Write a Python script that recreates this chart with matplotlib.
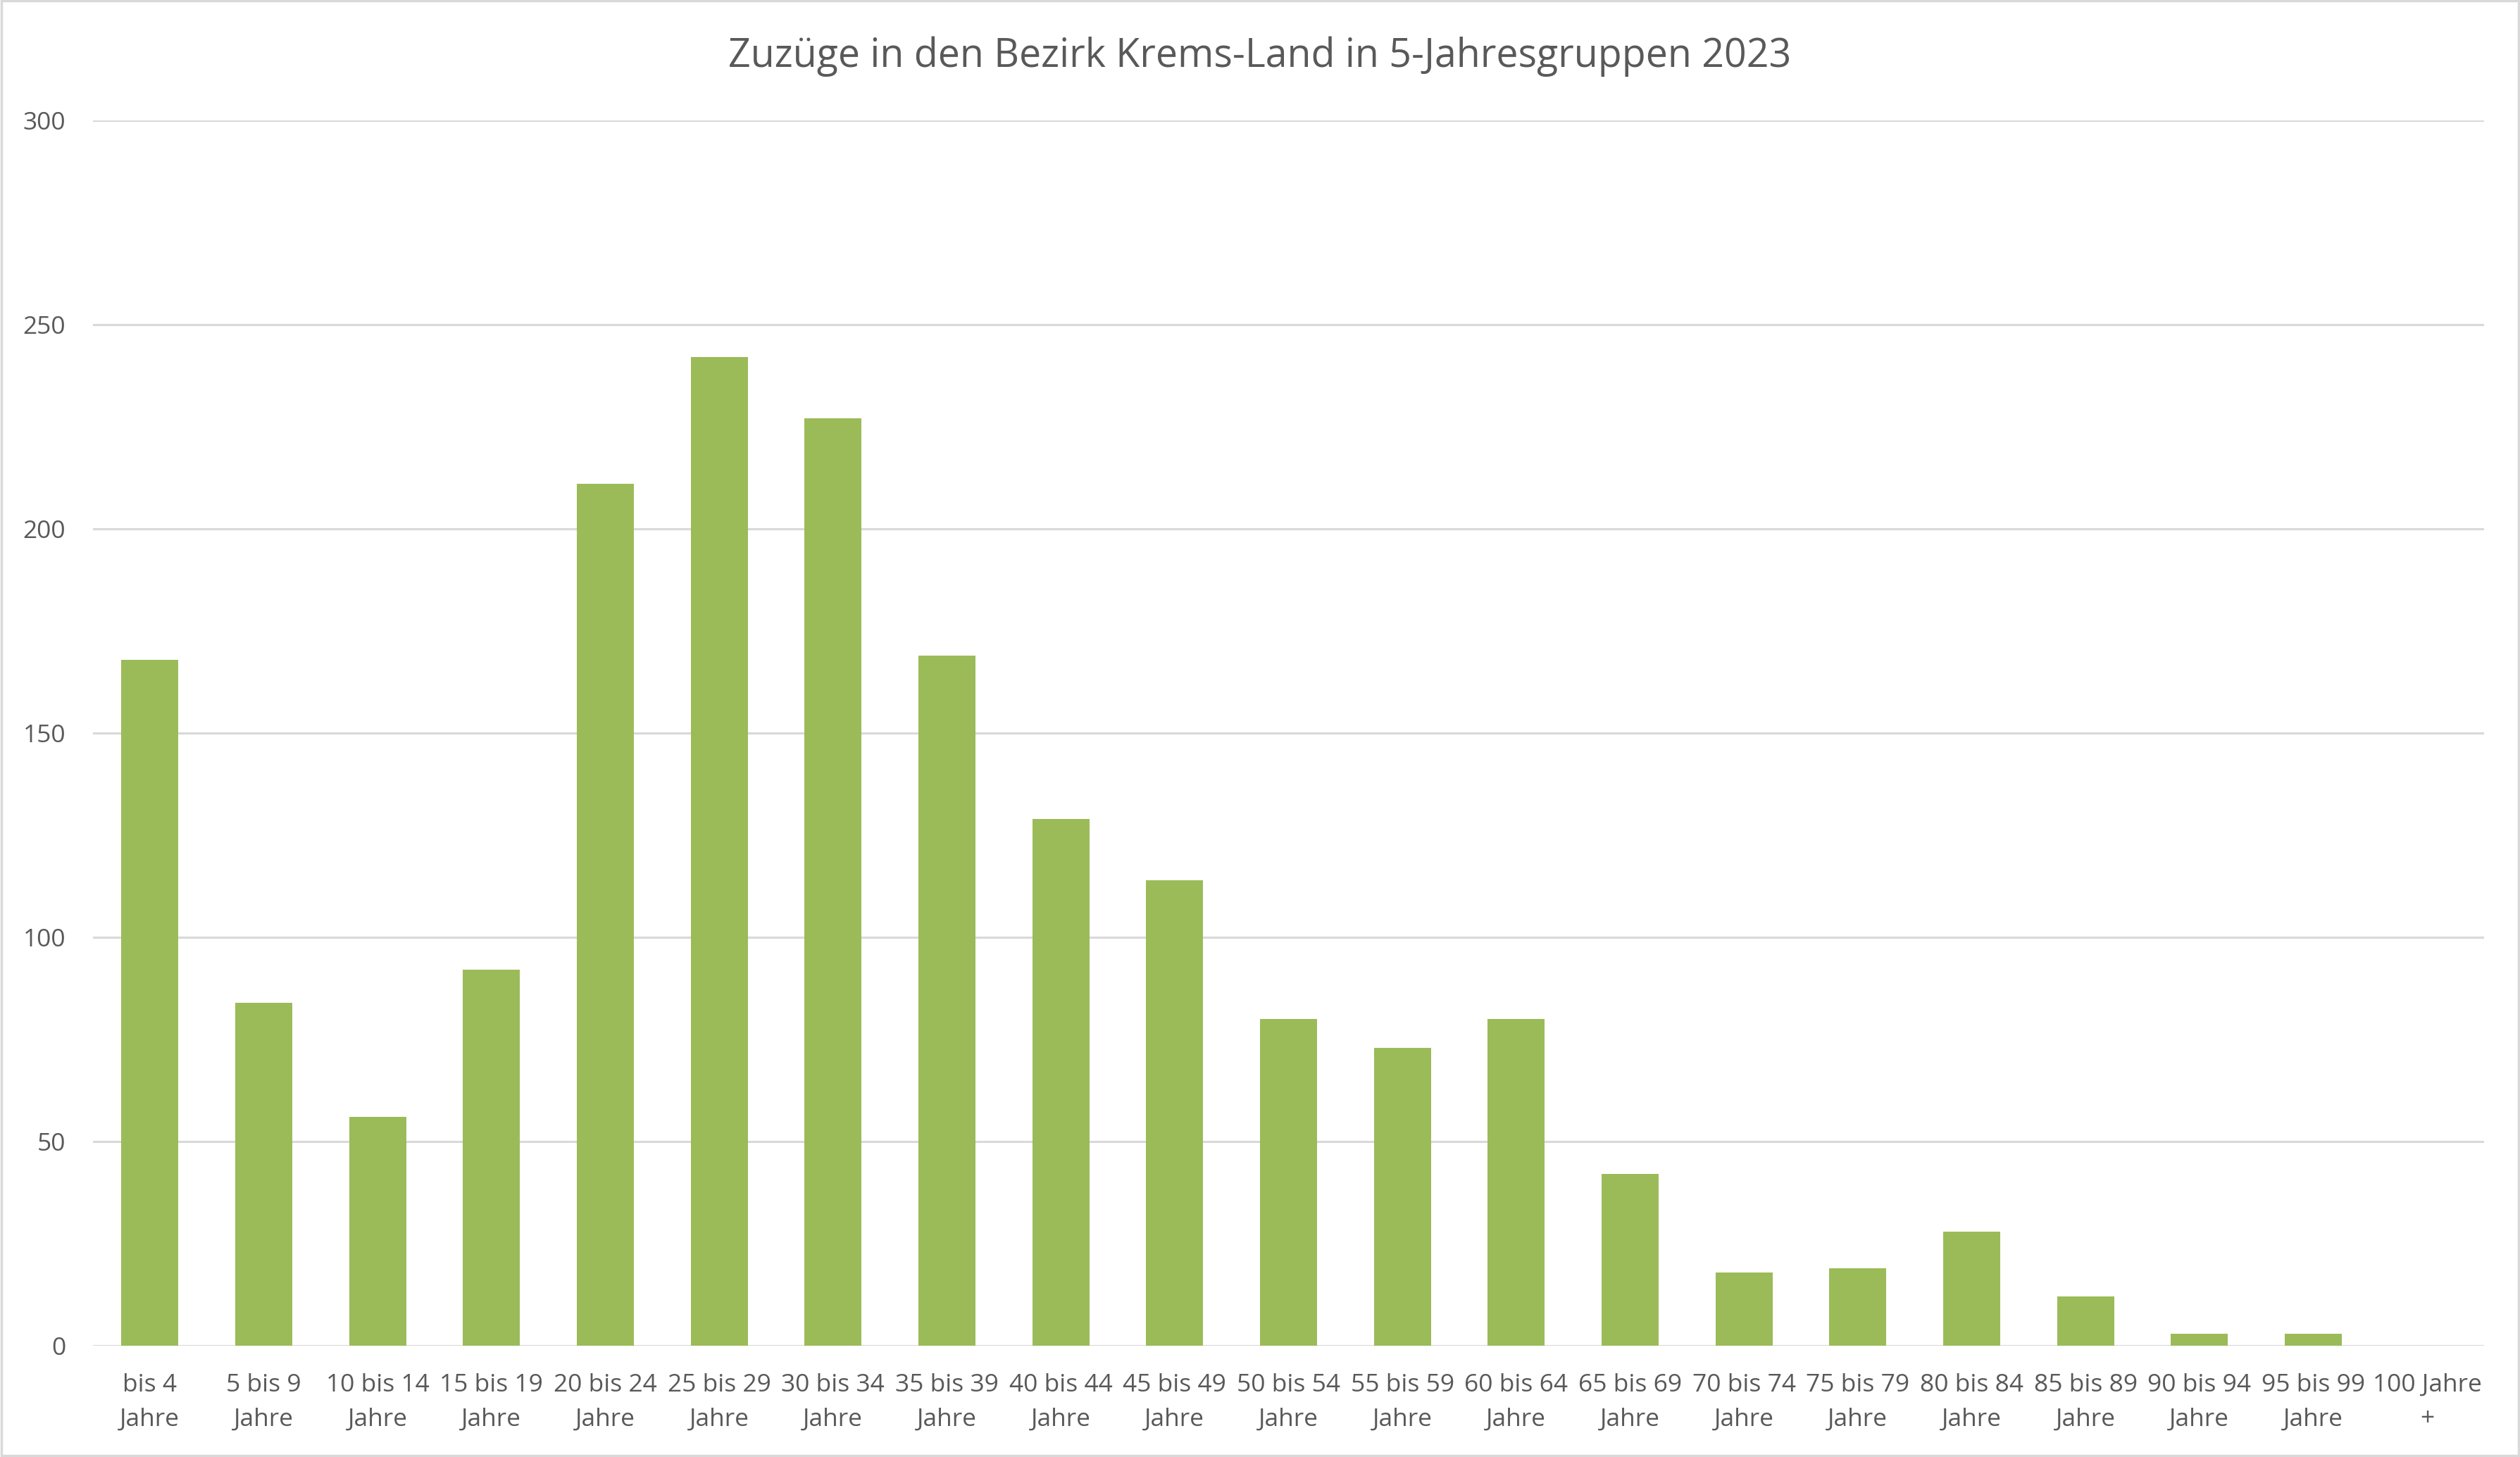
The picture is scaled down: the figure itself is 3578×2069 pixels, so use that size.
import matplotlib
matplotlib.use('Agg')
import matplotlib.pyplot as plt
from matplotlib.patches import Rectangle

plt.rcParams['font.family'] = ['Open Sans', 'DejaVu Sans']

categories = ['bis 4\nJahre', '5 bis 9\nJahre', '10 bis 14\nJahre', '15 bis 19\nJahre',
              '20 bis 24\nJahre', '25 bis 29\nJahre', '30 bis 34\nJahre', '35 bis 39\nJahre',
              '40 bis 44\nJahre', '45 bis 49\nJahre', '50 bis 54\nJahre', '55 bis 59\nJahre',
              '60 bis 64\nJahre', '65 bis 69\nJahre', '70 bis 74\nJahre', '75 bis 79\nJahre',
              '80 bis 84\nJahre', '85 bis 89\nJahre', '90 bis 94\nJahre', '95 bis 99\nJahre',
              '100 Jahre\n+']
zuzuege = [168, 84, 56, 92, 211, 242, 227, 169, 129, 114, 80, 73, 80, 42, 18, 19, 28, 12, 3, 3, 0]
yticks = [0, 50, 100, 150, 200, 250, 300]

title = 'Zuzüge in den Bezirk Krems-Land in 5-Jahresgruppen 2023'

text_col = '#595959'
grid_col = '#D9D9D9'
bar_col = '#9BBB59'

fig = plt.figure(figsize=(35.78, 20.69), dpi=100)
ax = fig.add_axes([132 / 3578, 1 - 1911 / 2069, (3527 - 132) / 3578, (1911 - 171) / 2069])

x = range(len(categories))
ax.bar(x, zuzuege, width=0.5, color=bar_col, zorder=3)

ax.set_xlim(-0.5, len(categories) - 0.5)
ax.set_ylim(0, 300)
ax.set_yticks(yticks)
ax.set_xticks(list(x))
ax.set_xticklabels(categories, linespacing=1.55)

for y in yticks:
    ax.axhline(y, color=grid_col, linewidth=2.2, zorder=1)

for s in ax.spines.values():
    s.set_visible(False)
ax.tick_params(axis='both', length=0, labelsize=25.5, colors=text_col)
ax.tick_params(axis='y', pad=28)
ax.tick_params(axis='x', pad=28)

fig.text(0.5, 1 - 80 / 2069, title, ha='center', va='center', fontsize=40, color=text_col)

# light border round the whole chart
fig.patches.append(Rectangle((0.0005, 0.0008), 0.999, 0.9985, transform=fig.transFigure,
                             fill=False, edgecolor=grid_col, linewidth=2.5))

fig.savefig('out.png', dpi=100, facecolor='white')
